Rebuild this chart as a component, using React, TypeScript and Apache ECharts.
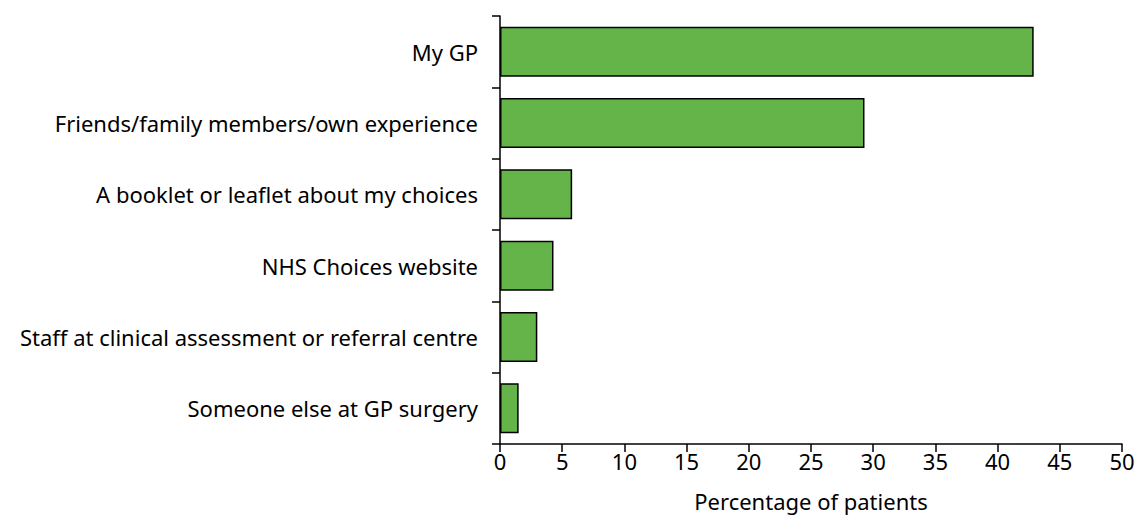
import React, { useEffect, useRef } from "react";
import * as echarts from "echarts";

const categories = [
  "My GP",
  "Friends/family members/own experience",
  "A booklet or leaflet about my choices",
  "NHS Choices website",
  "Staff at clinical assessment or referral centre",
  "Someone else at GP surgery",
];
const values = [42.9, 29.3, 5.8, 4.3, 3.0, 1.5];
const xTicks = { min: 0, max: 50, interval: 5 };
const xName = "Percentage of patients";

export default function App() {
  const ref = useRef<HTMLDivElement>(null);
  useEffect(() => {
    if (!ref.current) return;
    const chart = echarts.init(ref.current, null, { renderer: "svg" });
    const font = "Noto Sans";
    chart.setOption({
      animation: false,
      grid: { left: 500, right: 14, top: 16, bottom: 74, outerBoundsMode: "none", containLabel: false },
      xAxis: {
        type: "value",
        min: xTicks.min,
        max: xTicks.max,
        interval: xTicks.interval,
        name: xName,
        nameLocation: "middle",
        nameGap: 46,
        nameTextStyle: { color: "#000", fontSize: 22, fontFamily: font },
        axisLine: { show: true, lineStyle: { color: "#000", width: 1.5 } },
        axisTick: { show: true, length: 8, lineStyle: { color: "#000", width: 1.5 } },
        axisLabel: { color: "#000", fontSize: 22, fontFamily: font, margin: 6 },
        splitLine: { show: false },
      },
      yAxis: {
        type: "category",
        data: categories,
        inverse: true,
        axisLine: { show: true, lineStyle: { color: "#000", width: 1.5 } },
        axisTick: { show: true, length: 8, lineStyle: { color: "#000", width: 1.5 } },
        axisLabel: { color: "#000", fontSize: 22, fontFamily: font, margin: 22 },
      },
      series: [
        {
          type: "bar",
          data: values,
          barCategoryGap: "30%",
          itemStyle: { color: "#64b44a", borderColor: "#000", borderWidth: 1.5 },
        },
      ],
    });
    return () => chart.dispose();
  }, []);
  return (
    <div
      ref={ref}
      style={{ position: "absolute", left: 0, top: 0, width: 1136, height: 518 }}
    />
  );
}
